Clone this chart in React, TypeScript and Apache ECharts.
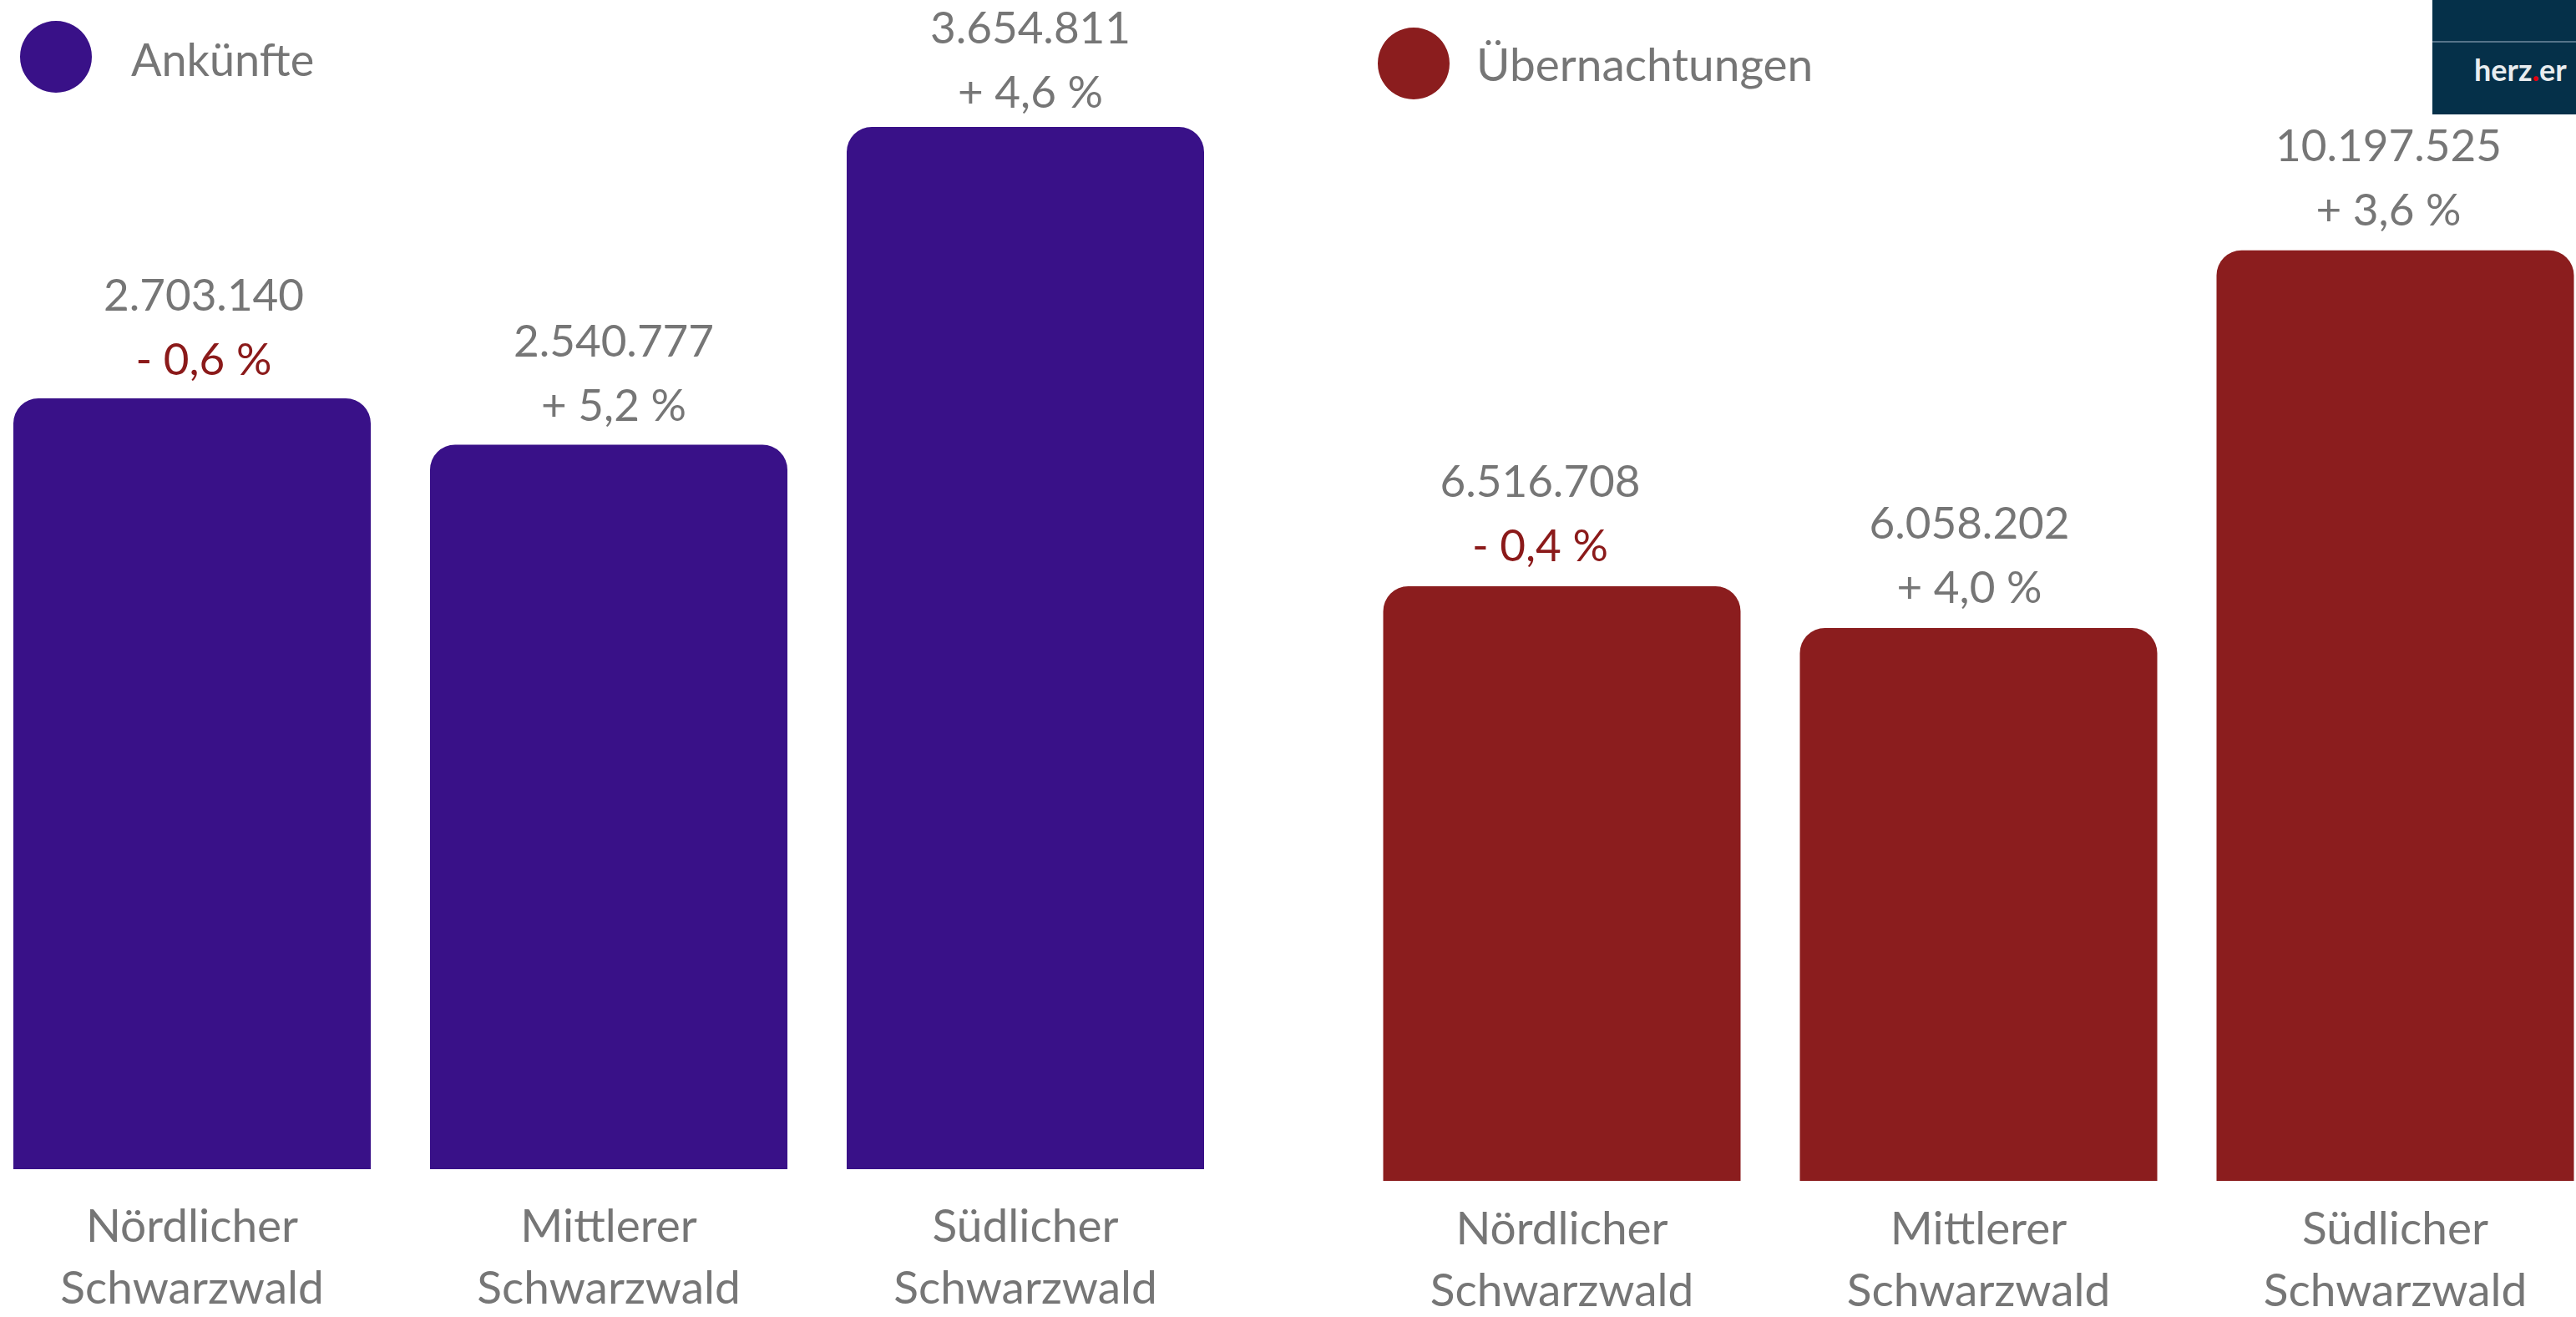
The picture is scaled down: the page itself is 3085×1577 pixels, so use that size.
import React, { useEffect, useRef } from "react";
import * as echarts from "echarts";

const categories = ["Nördlicher\nSchwarzwald", "Mittlerer\nSchwarzwald", "Südlicher\nSchwarzwald"];
const arrivals = [2703140, 2540777, 3654811];
const arrivalsChange = [-0.6, 5.2, 4.6];
const overnights = [6516708, 6058202, 10197525];
const overnightsChange = [-0.4, 4.0, 3.6];
const seriesNames = ["Ankünfte", "Übernachtungen"];

// nudges of the value labels, as placed in the original
const arrivalsLabelDx = [14, 6, 6];
const arrivalsLabelDy = [0, 0, 5];
const overnightsLabelDx = [-26, -11, -8];
const overnightsLabelDy = [0, 0, 0];

const PURPLE = "#391188";
const RED = "#8b1d1e";
const GREY = "#767676";
const NEG = "#8b1a1a";
const FONT = "Lato";

function fmtNum(n: number): string {
  return String(n).replace(/\B(?=(\d{3})+(?!\d))/g, ".");
}
function fmtPct(c: number): string {
  return (c < 0 ? "- " : "+ ") + Math.abs(c).toFixed(1).replace(".", ",") + " %";
}

function makeLabel(changes: number[], distance: number) {
  return {
    show: true,
    position: "top",
    distance,
    formatter: (p: any) => {
      const c = changes[p.dataIndex];
      return `{v|${fmtNum(p.value)}}\n{${c < 0 ? "n" : "p"}|${fmtPct(c)}}`;
    },
    rich: {
      v: { fontSize: 53, lineHeight: 77, color: GREY, fontFamily: FONT },
      p: { fontSize: 53, lineHeight: 77, color: GREY, fontFamily: FONT },
      n: { fontSize: 53, lineHeight: 77, color: NEG, fontFamily: FONT },
    },
  };
}

function withOffsets(values: number[], dx: number[], dy: number[]) {
  return values.map((v, i) => ({ value: v, label: { offset: [dx[i], dy[i]] } }));
}

export default function App() {
  const ref = useRef<HTMLDivElement>(null);
  useEffect(() => {
    if (!ref.current) return;
    const chart = echarts.init(ref.current, null, { renderer: "svg" });
    const labelBase = { fontSize: 55, lineHeight: 74, color: GREY, fontFamily: FONT, interval: 0 };
    const xAxisBase = {
      type: "category",
      data: categories,
      axisLine: { show: false },
      axisTick: { show: false },
    };
    chart.setOption({
      animation: false,
      backgroundColor: "#ffffff",
      grid: [
        { left: -19.5, top: 0, width: 1497, height: 1400, outerBoundsMode: "none", containLabel: false },
        { left: 1621, top: 0, width: 1497, height: 1414, outerBoundsMode: "none", containLabel: false },
      ],
      xAxis: [
        { ...xAxisBase, gridIndex: 0, axisLabel: { ...labelBase, margin: 29 } },
        { ...xAxisBase, gridIndex: 1, axisLabel: { ...labelBase, margin: 18 } },
      ],
      yAxis: [
        { type: "value", gridIndex: 0, min: 0, max: 4100000, show: false, splitLine: { show: false } },
        { type: "value", gridIndex: 1, min: 0, max: 12940000, show: false, splitLine: { show: false } },
      ],
      series: [
        {
          name: seriesNames[0],
          type: "bar",
          xAxisIndex: 0,
          yAxisIndex: 0,
          data: withOffsets(arrivals, arrivalsLabelDx, arrivalsLabelDy),
          barWidth: 428,
          itemStyle: { color: PURPLE, borderRadius: [30, 30, 0, 0] },
          label: makeLabel(arrivalsChange, 10),
        },
        {
          name: seriesNames[1],
          type: "bar",
          xAxisIndex: 1,
          yAxisIndex: 1,
          data: withOffsets(overnights, overnightsLabelDx, overnightsLabelDy),
          barWidth: 428,
          itemStyle: { color: RED, borderRadius: [30, 30, 0, 0] },
          label: makeLabel(overnightsChange, 12),
        },
      ],
      graphic: [
        { type: "circle", shape: { cx: 67, cy: 68, r: 43 }, style: { fill: PURPLE } },
        {
          type: "text",
          x: 157,
          y: 70,
          style: { text: seriesNames[0], fontSize: 54, fontFamily: FONT, fill: GREY, verticalAlign: "middle", align: "left" },
        },
        { type: "circle", shape: { cx: 1693, cy: 76, r: 43 }, style: { fill: RED } },
        {
          type: "text",
          x: 1768,
          y: 76,
          style: { text: seriesNames[1], fontSize: 55, fontFamily: FONT, fill: GREY, verticalAlign: "middle", align: "left" },
        },
        { type: "rect", shape: { x: 2913, y: 0, width: 172, height: 137 }, style: { fill: "#053049" } },
        { type: "line", shape: { x1: 2913, y1: 50, x2: 3085, y2: 50 }, style: { stroke: "#56748a", lineWidth: 2 } },
        {
          type: "text",
          x: 2963,
          y: 101,
          style: {
            text: "{w|herz}{r|.}{w|er}",
            verticalAlign: "bottom",
            align: "left",
            rich: {
              w: { fontSize: 36, fontWeight: 700, fontFamily: FONT, fill: "#e8ecef", color: "#e8ecef" },
              r: { fontSize: 36, fontWeight: 900, fontFamily: FONT, fill: "#e3000f", color: "#e3000f" },
            },
          },
        },
      ],
    });
    return () => chart.dispose();
  }, []);
  return (
    <div
      ref={ref}
      style={{ position: "absolute", left: 0, top: 0, width: 3085, height: 1577 }}
    />
  );
}
